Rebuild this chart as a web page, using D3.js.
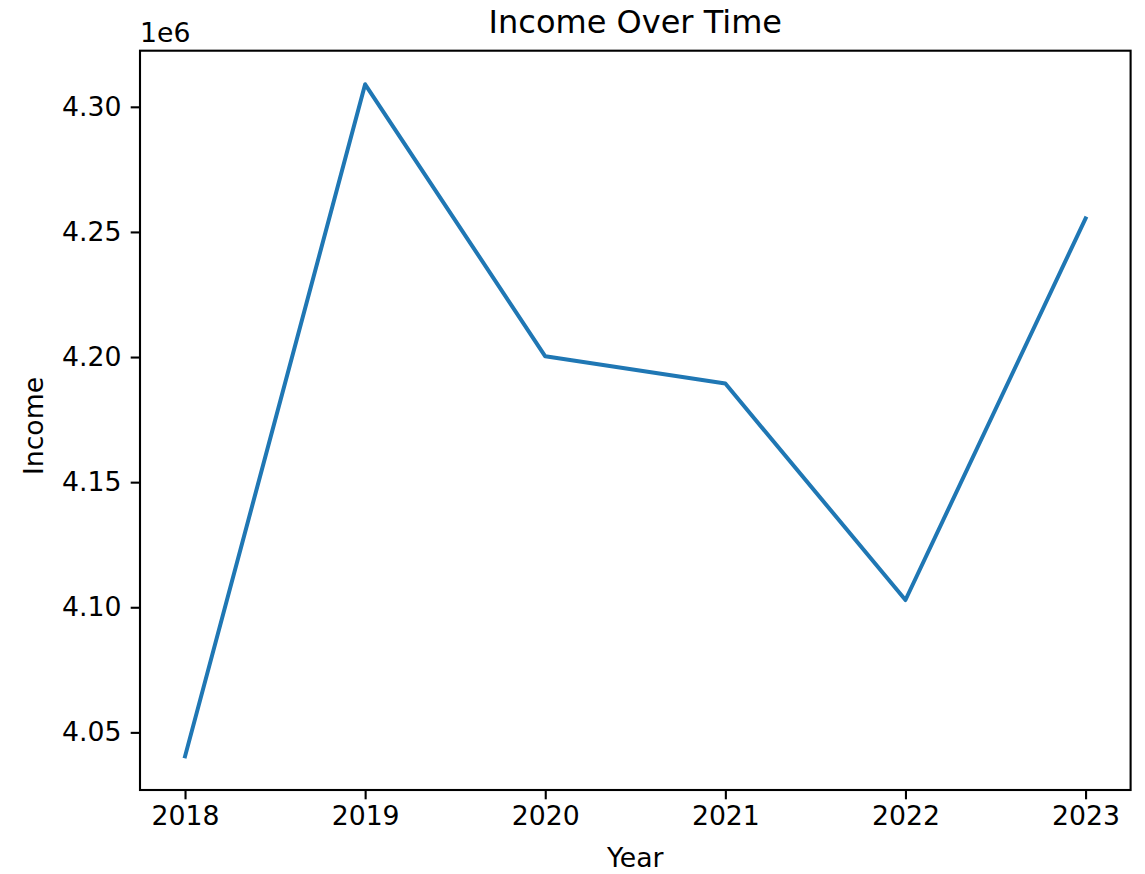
<!DOCTYPE html>
<html>
<head>
<meta charset="utf-8">
<script src="https://cdn.jsdelivr.net/npm/d3@7"></script>
<style>
  html, body { margin: 0; padding: 0; background: #fff; }
  svg { display: block; }
  text { font-family: "DejaVu Sans", sans-serif; fill: #000; }
</style>
</head>
<body>
<svg id="chart" width="1145" height="874"></svg>
<script>
const years = [2018, 2019, 2020, 2021, 2022, 2023];
const income = [4040400, 4309000, 4200300, 4189400, 4102900, 4255400];
const yTickValues = [4050000, 4100000, 4150000, 4200000, 4250000, 4300000];
const yTickLabels = ["4.05", "4.10", "4.15", "4.20", "4.25", "4.30"];
const xTickLabels = ["2018", "2019", "2020", "2021", "2022", "2023"];

const W = 1145, H = 874;
const m = { left: 140, top: 50.7, right: 1130.6, bottom: 790 };
const svg = d3.select("#chart");

const xMin = d3.min(years), xMax = d3.max(years);
const xPad = (xMax - xMin) * 0.05;
const x = d3.scaleLinear().domain([xMin - xPad, xMax + xPad]).range([m.left, m.right]);
const yMin = d3.min(income), yMax = d3.max(income);
const yPad = (yMax - yMin) * 0.05;
const y = d3.scaleLinear().domain([yMin - yPad, yMax + yPad]).range([m.bottom, m.top]);

const fs = 26.7;
const tickLen = 9.3;
const spineW = 2.1;

// line
const line = d3.line().x((d, i) => x(years[i])).y(d => y(d));
svg.append("path")
  .datum(income)
  .attr("d", line)
  .attr("fill", "none")
  .attr("stroke", "#1f77b4")
  .attr("stroke-width", 4)
  .attr("stroke-linejoin", "round")
  .attr("stroke-linecap", "square");

// frame
svg.append("rect")
  .attr("x", m.left).attr("y", m.top)
  .attr("width", m.right - m.left).attr("height", m.bottom - m.top)
  .attr("fill", "none").attr("stroke", "#000").attr("stroke-width", spineW);

// x axis
const xAxis = d3.axisBottom(x)
  .tickValues(years)
  .tickFormat((d, i) => xTickLabels[i])
  .tickSize(tickLen)
  .tickPadding(7);
const gx = svg.append("g").attr("transform", `translate(0,${m.bottom})`).call(xAxis);
gx.select(".domain").remove();
gx.selectAll(".tick line").attr("stroke", "#000").attr("stroke-width", spineW);
gx.selectAll(".tick text").attr("font-size", fs).attr("font-family", "DejaVu Sans").attr("fill", "#000");

// y axis
const yAxis = d3.axisLeft(y)
  .tickValues(yTickValues)
  .tickFormat((d, i) => yTickLabels[i])
  .tickSize(tickLen)
  .tickPadding(9.3);
const gy = svg.append("g").attr("transform", `translate(${m.left},0)`).call(yAxis);
gy.select(".domain").remove();
gy.selectAll(".tick line").attr("stroke", "#000").attr("stroke-width", spineW);
gy.selectAll(".tick text").attr("font-size", fs).attr("font-family", "DejaVu Sans").attr("fill", "#000");

// offset text
svg.append("text").attr("x", m.left).attr("y", 41.5)
  .attr("font-size", fs).text("1e6");

// title
svg.append("text").attr("x", (m.left + m.right) / 2).attr("y", 33)
  .attr("text-anchor", "middle").attr("font-size", 32).text("Income Over Time");

// axis labels
svg.append("text").attr("x", (m.left + m.right) / 2).attr("y", 867)
  .attr("text-anchor", "middle").attr("font-size", fs).text("Year");
svg.append("text").attr("transform", `translate(43,426) rotate(-90)`)
  .attr("text-anchor", "middle").attr("font-size", fs).text("Income");
</script>
</body>
</html>
